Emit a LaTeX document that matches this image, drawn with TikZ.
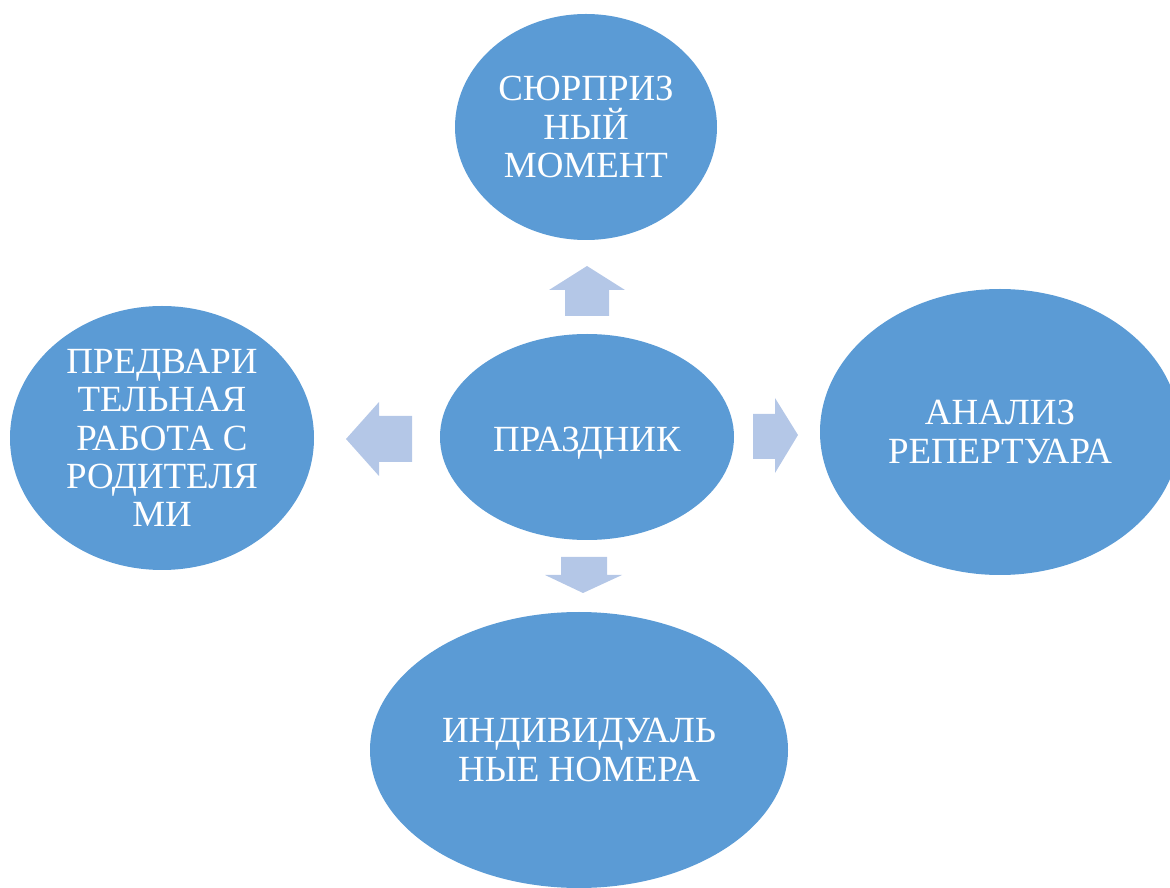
\documentclass[tikz,border=0pt]{standalone}
\usepackage{fontspec}
\setmainfont{Liberation Serif}
\usetikzlibrary{positioning,shapes.geometric}
\definecolor{ovalblue}{HTML}{5B9BD5}
\definecolor{blockblue}{HTML}{B4C7E7}
\tikzset{oval/.style={ellipse, fill=ovalblue, draw=none, inner sep=0pt, text=white, align=center, font=\fontsize{21}{21.8}\selectfont}}
\tikzset{blk/.style={fill=blockblue, draw=none}}

\begin{document}
\begin{tikzpicture}
			\useasboundingbox (0,0) rectangle (23.4,-17.76);
			\clip (0,0) rectangle (23.4,-17.76);
			\node[oval, minimum width=5.88cm, minimum height=4.12cm, text height=0.72cm] (fest) at (11.74,-8.74) {ПРАЗДНИК};
			\node[oval, minimum width=5.24cm, minimum height=4.52cm] (surprise) at (11.72,-2.54) {СЮРПРИЗ\\НЫЙ\\МОМЕНТ};
			\node[oval, minimum width=6.08cm, minimum height=5.28cm] (parents) at (3.24,-8.76) {ПРЕДВАРИ\\ТЕЛЬНАЯ\\РАБОТА С\\РОДИТЕЛЯ\\МИ};
			\node[oval, minimum width=7.2cm, minimum height=5.72cm] (repert) at (20.0,-8.64) {АНАЛИЗ\\РЕПЕРТУАРА};
			\node[oval, minimum width=8.36cm, minimum height=5.52cm] (solo) at (11.58,-15.0) {ИНДИВИДУАЛЬ\\НЫЕ НОМЕРА};
			% block arrows
			\fill[blk] (11.30,-6.32) -- (11.30,-5.80) -- (10.98,-5.80) -- (11.74,-5.32) -- (12.50,-5.80) -- (12.18,-5.80) -- (12.18,-6.32) -- cycle;
			\fill[blk] (8.24,-8.32) -- (7.58,-8.32) -- (7.58,-8.04) -- (6.92,-8.78) -- (7.58,-9.52) -- (7.58,-9.24) -- (8.24,-9.24) -- cycle;
			\fill[blk] (15.06,-8.28) -- (15.50,-8.28) -- (15.50,-7.96) -- (15.96,-8.70) -- (15.50,-9.46) -- (15.50,-9.18) -- (15.06,-9.18) -- cycle;
			\fill[blk] (11.22,-11.14) -- (12.14,-11.14) -- (12.14,-11.50) -- (12.44,-11.50) -- (11.66,-11.86) -- (10.90,-11.50) -- (11.22,-11.50) -- cycle;
		\end{tikzpicture}
\end{document}
